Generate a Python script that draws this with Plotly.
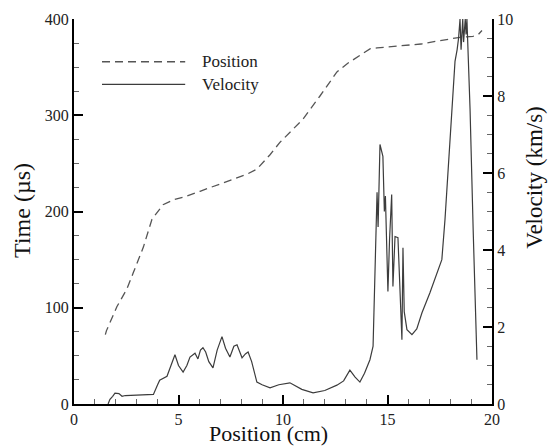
import plotly.graph_objects as go

# Data
POS_X = [1.5, 1.55, 2.05, 2.52, 2.83, 3.32, 3.73, 4.0, 4.26, 4.74, 5.4, 6.03, 6.8, 7.6, 8.3,
         8.75, 9.38, 9.86, 10.4, 10.96, 11.77, 12.58, 13.1, 13.54, 14.16, 14.5, 15.0,
         15.74, 16.6, 17.37, 18.47, 19.09, 19.35, 19.52]
POS_T = [72, 76, 101, 119, 136, 163, 192, 200, 207, 212, 216, 221, 227, 233, 239,
         244, 259, 272, 284, 296, 320, 345, 354, 360, 369, 370, 371,
         372, 374, 377, 381, 382, 384, 388]

VEL_X = [1.63, 1.72, 1.85, 1.96, 2.15, 2.3, 2.45, 3.0, 3.5, 3.8, 4.0, 4.1, 4.45, 4.65,
         4.83, 5.0, 5.22, 5.4, 5.55, 5.79, 5.93, 6.05, 6.17, 6.3, 6.45, 6.65, 6.85,
         7.08, 7.25, 7.46, 7.65, 7.8, 7.95, 8.04, 8.2, 8.33, 8.5, 8.75, 9.0, 9.23,
         9.38, 9.8, 10.33, 10.9, 11.44, 12.0, 12.58, 12.9, 13.2, 13.45, 13.68, 13.9,
         14.16, 14.31, 14.45, 14.5, 14.55, 14.64, 14.78, 14.85, 14.9, 15.02, 15.1,
         15.2, 15.26, 15.36, 15.5, 15.6, 15.69, 15.74, 15.8, 15.93, 16.17, 16.4,
         16.65, 17.03, 17.3, 17.6, 17.75, 18.09, 18.23, 18.33, 18.4, 18.47, 18.52,
         18.6, 18.64, 18.72, 18.76, 18.8, 18.85, 18.95, 19.1, 19.28]
VEL_V = [0, 0.12, 0.2, 0.28, 0.27, 0.2, 0.22, 0.23, 0.24, 0.25, 0.5, 0.62, 0.72, 1.0,
         1.28, 1.0, 0.83, 1.0, 1.22, 1.32, 1.17, 1.4, 1.46, 1.35, 1.1, 0.94, 1.4,
         1.75, 1.45, 1.22, 1.5, 1.54, 1.35, 1.2, 1.3, 1.35, 1.1, 0.57, 0.5, 0.44,
         0.42, 0.5, 0.55, 0.38, 0.29, 0.35, 0.49, 0.6, 0.88, 0.7, 0.57, 0.8,
         1.15, 1.5, 4.3, 5.5, 4.6, 6.74, 6.43, 5.0, 5.4, 2.92, 4.3,
         5.44, 3.05, 4.35, 4.32, 2.63, 1.67, 4.06, 2.4, 1.93, 1.8, 1.95,
         2.37, 2.89, 3.3, 3.75, 4.79, 7.58, 8.9, 9.2, 9.5, 10.0, 9.2,
         10.0, 9.4, 10.0, 9.6, 10.0, 9.3, 7.66, 4.5, 1.15]

X_TICKS = [0, 5, 10, 15, 20]
T_TICKS = [0, 100, 200, 300, 400]
V_TICKS = [0, 2, 4, 6, 8, 10]

SERIF = "Liberation Serif, Times New Roman, serif"
CURVE = "#3c3c3c"

fig = go.Figure()
fig.add_trace(go.Scatter(x=POS_X, y=POS_T, mode="lines", name="Position",
                         line=dict(color="#555555", width=1.3, dash="8px,5px"),
                         yaxis="y"))
fig.add_trace(go.Scatter(x=VEL_X, y=VEL_V, mode="lines", name="Velocity",
                         line=dict(color=CURVE, width=1.2),
                         yaxis="y2"))

axis_common = dict(showgrid=False, zeroline=False, showline=True, linecolor="black",
                   linewidth=2, ticks="inside", ticklen=9, tickwidth=2, tickcolor="black",
                   tickfont=dict(family=SERIF, size=16, color="#222"))

fig.update_layout(
    width=549, height=447,
    margin=dict(l=74, r=57, t=19, b=43),
    paper_bgcolor="white", plot_bgcolor="white",
    showlegend=False,
    xaxis=dict(range=[0, 20], tickvals=X_TICKS,
               minor=dict(ticks="inside", ticklen=5, tickwidth=1, tickcolor="#666", dtick=1),
               **axis_common),
    yaxis=dict(range=[0, 400], tickvals=T_TICKS,
               minor=dict(ticks="inside", ticklen=5, tickwidth=1, tickcolor="#666", dtick=25),
               **axis_common),
    yaxis2=dict(range=[0, 10], tickvals=V_TICKS, overlaying="y", side="right",
                minor=dict(ticks="inside", ticklen=5, tickwidth=1, tickcolor="#666", dtick=0.5),
                **axis_common),
)

# legend drawn by hand so the sample lines are as long as in the original
fig.add_shape(type="line", xref="paper", yref="paper", x0=0.067, x1=0.266, y0=0.889, y1=0.889,
              line=dict(color="#555555", width=1.3, dash="8px,5px"))
fig.add_shape(type="line", xref="paper", yref="paper", x0=0.067, x1=0.266, y0=0.83, y1=0.83,
              line=dict(color=CURVE, width=1.2))
for label, yy in [("Position", 0.889), ("Velocity", 0.83)]:
    fig.add_annotation(text=label, xref="paper", yref="paper", x=0.301, y=yy,
                       xanchor="left", yanchor="middle", showarrow=False,
                       font=dict(family=SERIF, size=17, color="#222"))

# axis titles
fig.add_annotation(text="Position (cm)", xref="paper", yref="paper", x=0.4665, y=-0.076,
                   xanchor="center", yanchor="middle", showarrow=False,
                   font=dict(family=SERIF, size=22, color="#111"))
fig.add_annotation(text="Time (µs)", xref="paper", yref="paper", x=-0.124, y=0.502,
                   textangle=-90, xanchor="center", yanchor="middle", showarrow=False,
                   font=dict(family=SERIF, size=24, color="#111"))
fig.add_annotation(text="Velocity (km/s)", xref="paper", yref="paper", x=1.103, y=0.588,
                   textangle=-90, xanchor="center", yanchor="middle", showarrow=False,
                   font=dict(family=SERIF, size=23, color="#111"))

# the page body has a default 8px margin; drop it so the figure fills the window
fig.write_html("out.html", config={"displayModeBar": False},
               post_script="document.body.style.margin='0px';")
